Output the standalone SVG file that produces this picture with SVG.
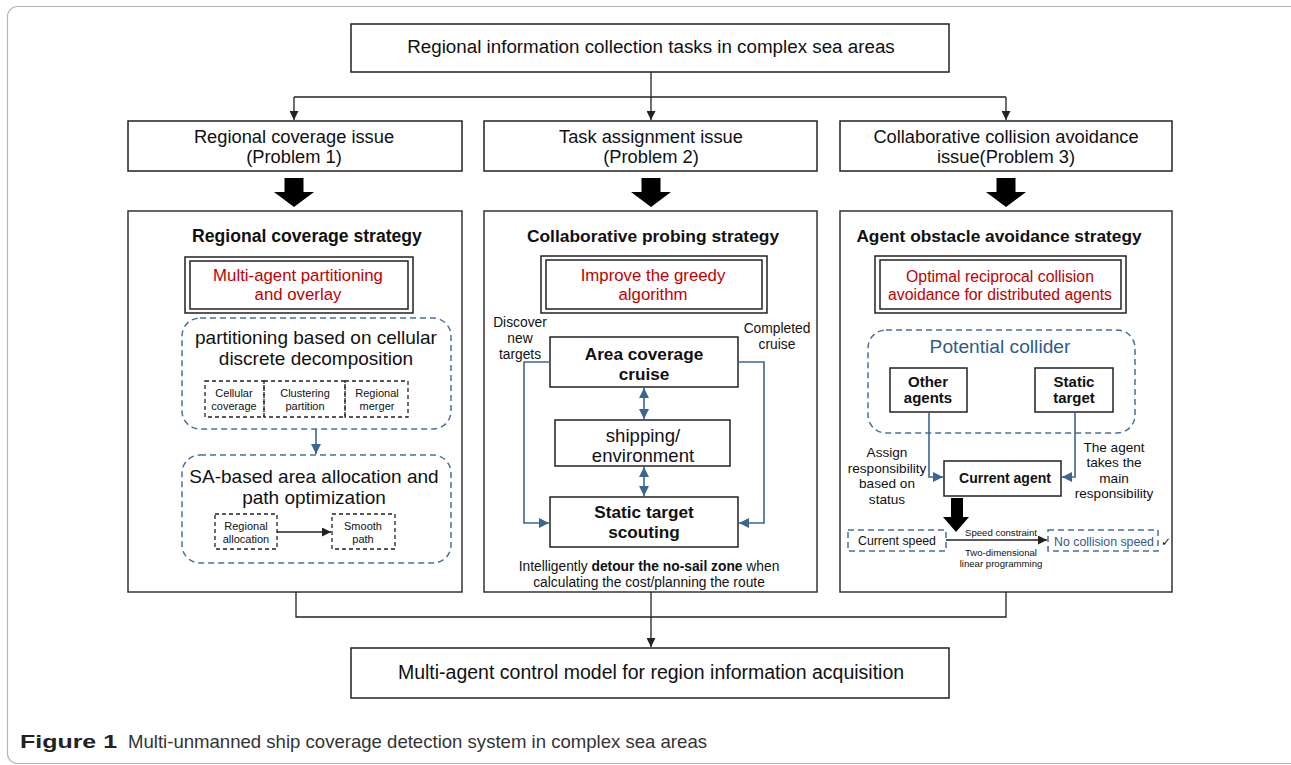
<svg xmlns="http://www.w3.org/2000/svg" width="1291" height="765" viewBox="0 0 1291 765">
<style>
text{font-family:"Liberation Sans",Arial,sans-serif;fill:#111;text-anchor:middle}
.box{fill:#fff;stroke:#222;stroke-width:1.5}
.panel{fill:#fff;stroke:#333;stroke-width:1.5}
.dblue{fill:none;stroke:#4a6f9c;stroke-width:1.5;stroke-dasharray:6 4}
.dblack{fill:none;stroke:#222;stroke-width:1.3;stroke-dasharray:4 3}
.line{fill:none;stroke:#222;stroke-width:1.3}
.bline{fill:none;stroke:#3d6594;stroke-width:1.6}
.red{fill:#c00000}
.blue{fill:#2f5b8c}
.big{fill:#000}
.b{font-weight:700}
</style>
<defs>
<marker id="ak" viewBox="0 0 10 10" refX="10" refY="5" markerWidth="9" markerHeight="9" markerUnits="userSpaceOnUse" orient="auto"><path d="M0,0 L10,5 L0,10 z" fill="#222"/></marker>
<marker id="ab" viewBox="0 0 10 10" refX="10" refY="5" markerWidth="10" markerHeight="10" markerUnits="userSpaceOnUse" orient="auto-start-reverse"><path d="M0,0 L10,5 L0,10 z" fill="#3d6594"/></marker>
</defs>
<rect x="7.5" y="6.5" width="1300" height="757" rx="10" fill="#fff" stroke="#b5b5b5" stroke-width="1.2"/>

<g id="top">
<rect class="box" x="351" y="24" width="598" height="48"/>
<text x="651" y="53" font-size="18.8">Regional information collection tasks in complex sea areas</text>
</g>
<g id="problem1">
<rect class="box" x="128" y="121" width="334" height="50"/>
<text font-size="18.3"><tspan x="294" y="142.5">Regional coverage issue</tspan><tspan x="294" y="163">(Problem 1)</tspan></text>
</g>
<g id="problem2">
<rect class="box" x="484" y="121" width="333" height="50"/>
<text font-size="18.3"><tspan x="651" y="142.5">Task assignment issue</tspan><tspan x="651" y="163">(Problem 2)</tspan></text>
</g>
<g id="problem3">
<rect class="box" x="840" y="121" width="332" height="50"/>
<text font-size="18.3"><tspan x="1006" y="142.5">Collaborative collision avoidance</tspan><tspan x="1006" y="163">issue(Problem 3)</tspan></text>
</g>

<g id="panel1">
<rect class="panel" x="128" y="211" width="334" height="381"/>
<text x="307" y="242" font-size="17.6" class="b">Regional coverage strategy</text>
<rect class="box" x="185" y="257" width="228" height="56"/>
<rect class="box" x="190" y="261" width="218" height="48"/>
<text font-size="16.8" class="red"><tspan x="298" y="280.5">Multi-agent partitioning</tspan><tspan x="298" y="299.5">and overlay</tspan></text>
<rect class="dblue" x="182" y="318" width="269" height="111" rx="18"/>
<text font-size="19"><tspan x="316" y="343.5">partitioning based on cellular</tspan><tspan x="316" y="365">discrete decomposition</tspan></text>
<rect class="dblack" x="205" y="381" width="59" height="36"/>
<rect class="dblack" x="264" y="381" width="81" height="36"/>
<rect class="dblack" x="345" y="381" width="63" height="36"/>
<text font-size="11"><tspan x="234" y="397">Cellular</tspan><tspan x="234" y="410">coverage</tspan></text>
<text font-size="11"><tspan x="305" y="397">Clustering</tspan><tspan x="305" y="410">partition</tspan></text>
<text font-size="11"><tspan x="377" y="397">Regional</tspan><tspan x="377" y="410">merger</tspan></text>
<rect class="dblue" x="182" y="455" width="269" height="108" rx="18"/>
<text font-size="19"><tspan x="314" y="483">SA-based area allocation and</tspan><tspan x="314" y="504">path optimization</tspan></text>
<rect class="dblack" x="215" y="514" width="62" height="35"/>
<rect class="dblack" x="332" y="514" width="63" height="35"/>
<text font-size="11"><tspan x="246" y="530">Regional</tspan><tspan x="246" y="543">allocation</tspan></text>
<text font-size="11"><tspan x="363" y="530">Smooth</tspan><tspan x="363" y="543">path</tspan></text>
</g>

<g id="panel2">
<rect class="panel" x="484" y="211" width="333" height="381"/>
<text x="653" y="242" font-size="17.4" class="b">Collaborative probing strategy</text>
<rect class="box" x="541" y="256" width="226" height="57"/>
<rect class="box" x="546" y="260" width="216" height="49"/>
<text font-size="16.8" class="red"><tspan x="653" y="280.5">Improve the greedy</tspan><tspan x="653" y="299.5">algorithm</tspan></text>
<text font-size="13.8"><tspan x="520" y="327">Discover</tspan><tspan x="520" y="343">new</tspan><tspan x="520" y="359">targets</tspan></text>
<text font-size="13.8"><tspan x="777" y="333">Completed</tspan><tspan x="777" y="349">cruise</tspan></text>
<rect class="box" x="550" y="337" width="188" height="50"/>
<text font-size="17.2" class="b"><tspan x="644" y="360">Area coverage</tspan><tspan x="644" y="380">cruise</tspan></text>
<rect class="box" x="555" y="420" width="175" height="46"/>
<text font-size="18.6"><tspan x="643" y="441.5">shipping/</tspan><tspan x="643" y="462">environment</tspan></text>
<rect class="box" x="550" y="497" width="188" height="50"/>
<text font-size="17.2" class="b"><tspan x="644" y="518">Static target</tspan><tspan x="644" y="538">scouting</tspan></text>
<text font-size="13.8"><tspan x="649" y="571">Intelligently <tspan class="b">detour the no-sail zone</tspan> when</tspan><tspan x="649" y="587">calculating the cost/planning the route</tspan></text>
</g>

<g id="panel3">
<rect class="panel" x="840" y="211" width="332" height="381"/>
<text x="999" y="242" font-size="17.3" class="b">Agent obstacle avoidance strategy</text>
<rect class="box" x="875" y="256" width="251" height="57"/>
<rect class="box" x="880" y="260" width="241" height="49"/>
<text font-size="15.8" class="red"><tspan x="1000" y="281.5">Optimal reciprocal collision</tspan><tspan x="1000" y="299.5">avoidance for distributed agents</tspan></text>
<rect class="dblue" x="868" y="330" width="267" height="103" rx="18"/>
<text x="1000" y="353" font-size="19.2" class="blue">Potential collider</text>
<rect class="box" x="890" y="368" width="77" height="44"/>
<text font-size="15" class="b"><tspan x="928" y="387">Other</tspan><tspan x="928" y="403">agents</tspan></text>
<rect class="box" x="1035" y="368" width="78" height="44"/>
<text font-size="15" class="b"><tspan x="1074" y="387">Static</tspan><tspan x="1074" y="403">target</tspan></text>
<rect class="box" x="944" y="461" width="117" height="35"/>
<text x="1005" y="483" font-size="14" class="b">Current agent</text>
<text font-size="13.6"><tspan x="887" y="457">Assign</tspan><tspan x="887" y="472.5">responsibility</tspan><tspan x="887" y="488">based on</tspan><tspan x="887" y="503.5">status</tspan></text>
<text font-size="13.6"><tspan x="1114" y="452">The agent</tspan><tspan x="1114" y="467.3">takes the</tspan><tspan x="1114" y="482.6">main</tspan><tspan x="1114" y="498">responsibility</tspan></text>
<rect class="dblue" x="848" y="530" width="98" height="21"/>
<text x="897" y="545" font-size="12.3">Current speed</text>
<text x="1001" y="536" font-size="9.6">Speed constraint</text>
<text font-size="9.6"><tspan x="1001" y="556">Two-dimensional</tspan><tspan x="1001" y="567">linear programming</tspan></text>
<rect class="dblue" x="1048" y="530" width="110" height="21"/>
<text x="1104" y="545.5" font-size="12.3" class="blue">No collision speed</text>
<text x="1166" y="546" font-size="12" style="font-family:'DejaVu Sans',sans-serif">✓</text>
</g>

<g id="bottom">
<rect class="box" x="351" y="648" width="598" height="50"/>
<text x="651" y="679" font-size="19.5">Multi-agent control model for region information acquisition</text>
</g>

<g id="caption">
<text x="20" y="748" font-size="19" textLength="97" lengthAdjust="spacingAndGlyphs" style="text-anchor:start;font-weight:700;fill:#222">Figure 1</text>
<text x="128" y="748" font-size="19" textLength="579" lengthAdjust="spacingAndGlyphs" style="text-anchor:start;fill:#333">Multi-unmanned ship coverage detection system in complex sea areas</text>
</g>

<g id="connectors">
<path class="line" d="M651 72 V120" marker-end="url(#ak)"/>
<path class="line" d="M294 97 H1006"/>
<path class="line" d="M294 97 V120" marker-end="url(#ak)"/>
<path class="line" d="M1006 97 V120" marker-end="url(#ak)"/>
<path class="big" d="M284.5 178 H303.5 V192 H314 L294 207 L274 192 H284.5 Z"/>
<path class="big" d="M641.5 178 H660.5 V192 H671 L651 207 L631 192 H641.5 Z"/>
<path class="big" d="M996.5 178 H1015.5 V192 H1026 L1006 207 L986 192 H996.5 Z"/>
<path class="line" d="M296 592 V617 H1006 V592"/>
<path class="line" d="M651 592 V647" marker-end="url(#ak)"/>
<path class="bline" d="M316 429 V454" marker-end="url(#ab)"/>
<path class="line" d="M277 532 H331" marker-end="url(#ak)"/>
<path class="bline" d="M644 388 V419" marker-start="url(#ab)" marker-end="url(#ab)"/>
<path class="bline" d="M644 467 V496" marker-start="url(#ab)" marker-end="url(#ab)"/>
<path class="bline" d="M550 362 H524 V523 H549" marker-end="url(#ab)"/>
<path class="bline" d="M738 362 H764 V523 H739" marker-end="url(#ab)"/>
<path class="bline" d="M929 412 V477 H943" marker-end="url(#ab)"/>
<path class="bline" d="M1075 412 V477 H1062" marker-end="url(#ab)"/>
<path class="big" d="M951 498 H963 V517 H969 L956 532 L943 517 H951 Z"/>
<path class="line" d="M946 540 H1047" marker-end="url(#ak)"/>
</g>
</svg>
